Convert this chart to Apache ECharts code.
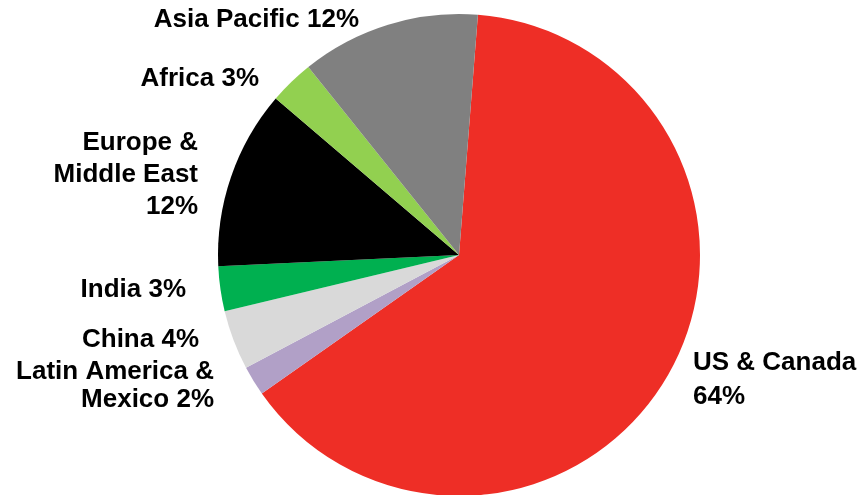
<!DOCTYPE html>
<html>
<head>
<meta charset="utf-8">
<style>
  html, body { margin: 0; padding: 0; background: #ffffff; }
  #chart { width: 861px; height: 495px; }
</style>
<script src="https://cdn.jsdelivr.net/npm/echarts@6/dist/echarts.min.js"></script>
</head>
<body>
<div id="chart"></div>
<script>
// Revenue share by region (percent), clockwise from the top
const regions = ['US & Canada', 'Latin America &\nMexico', 'China', 'India', 'Europe &\nMiddle East', 'Africa', 'Asia Pacific'];
const shares = [64, 2, 4, 3, 12, 3, 12];
// How the percentage attaches to each region name in its label
const joiners = ['\n', ' ', ' ', ' ', '\n', ' ', ' '];
const colors = ['#EE2E26', '#B1A0C7', '#D9D9D9', '#00B050', '#000000', '#92D050', '#808080'];

// Label anchor points: [x, y, align, lineHeight]
const labelSpots = [
  [693, 380, 'left', 34],
  [214, 386, 'right', 28],
  [199, 340, 'right', 28],
  [186, 290, 'right', 28],
  [198, 175, 'right', 32],
  [259, 79, 'right', 28],
  [359, 20, 'right', 28]
];

const chart = echarts.init(document.getElementById('chart'), null, { renderer: 'canvas' });

const data = regions.map((name, i) => ({
  name: name,
  value: shares[i],
  itemStyle: { color: colors[i] },
  label: { lineHeight: labelSpots[i][3] }
}));

chart.setOption({
  animation: false,
  backgroundColor: '#ffffff',
  series: [{
    type: 'pie',
    center: [459, 255],
    radius: 241,
    startAngle: 85.5,
    clockwise: true,
    avoidLabelOverlap: false,
    data: data,
    label: {
      show: true,
      position: 'outside',
      color: '#000000',
      fontFamily: '"Liberation Sans", Arial, sans-serif',
      fontWeight: 'bold',
      fontSize: 26,
      formatter: (p) => p.name + joiners[p.dataIndex] + p.value + '%'
    },
    labelLine: { show: false },
    labelLayout: (params) => {
      const s = labelSpots[params.dataIndex];
      return { x: s[0], y: s[1], align: s[2], verticalAlign: 'middle' };
    },
    emphasis: { disabled: true }
  }]
});
</script>
</body>
</html>
